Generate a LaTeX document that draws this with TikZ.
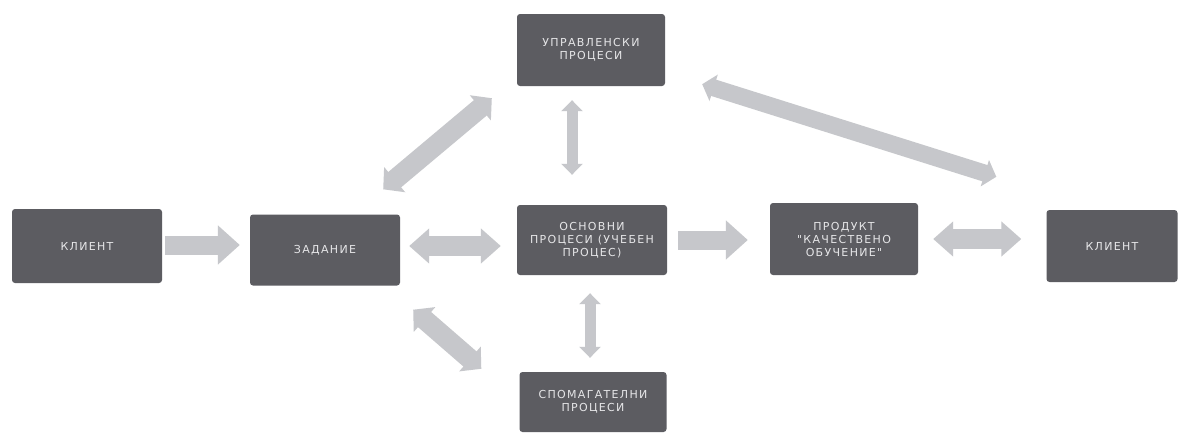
\documentclass[tikz,border=0pt]{standalone}
\usepackage{fontspec}
\newfontfamily\boxfont[LetterSpace=12]{DejaVu Sans}
\usetikzlibrary{arrows.meta,calc}
\definecolor{boxgray}{HTML}{5C5C61}
\definecolor{arrgray}{HTML}{C6C7CB}
\definecolor{txtgray}{HTML}{E6E6E8}
\begin{document}
\begin{tikzpicture}[x=1pt,y=-1pt,
  box/.style={fill=boxgray, rounded corners=3pt, text=txtgray,
    font=\boxfont\fontsize{11}{13}\selectfont, align=center, inner sep=0pt},
  sarrow/.style={draw=arrgray, line width=19pt, -{Triangle[length=22pt,width=38pt]}},
  darrow/.style={draw=arrgray, line width=20pt,
    {Triangle[length=20pt,width=34pt]}-{Triangle[length=20pt,width=34pt]}},
  varrow/.style={draw=arrgray, line width=11pt,
    {Triangle[length=11pt,width=21pt]}-{Triangle[length=11pt,width=21pt]}},
  diagarrow/.style={draw=arrgray, line width=20pt,
    {Triangle[length=15pt,width=32pt]}-{Triangle[length=15pt,width=32pt]}},
  longarrow/.style={draw=arrgray, line width=17pt,
    {Triangle[length=12pt,width=27pt]}-{Triangle[length=12pt,width=27pt]}}
]
\useasboundingbox (0,0) rectangle (1185,439);
\fill[white] (0,0) rectangle (1185,439);

\node[box, minimum width=148pt, minimum height=72pt] (up) at (591,50) {УПРАВЛЕНСКИ\\ПРОЦЕСИ};
\node[box, minimum width=150pt, minimum height=74pt] (kl1) at (87,246) {КЛИЕНТ};
\node[box, minimum width=150pt, minimum height=71pt] (zad) at (325,250) {ЗАДАНИЕ};
\node[box, minimum width=150pt, minimum height=70pt] (osn) at (592,240) {ОСНОВНИ\\ПРОЦЕСИ (УЧЕБЕН\\ПРОЦЕС)};
\node[box, minimum width=148pt, minimum height=72pt] (prod) at (844,239) {ПРОДУКТ\\"КАЧЕСТВЕНО\\ОБУЧЕНИЕ"};
\node[box, minimum width=131pt, minimum height=72pt] (kl2) at (1112,246) {КЛИЕНТ};
\node[box, minimum width=147pt, minimum height=60pt] (spom) at (593,402) {СПОМАГАТЕЛНИ\\ПРОЦЕСИ};

\draw[sarrow] ($(kl1.east)+(3,-1)$) -- ($(zad.west)+(-10,-5)$);
\draw[darrow] ($(zad.east)+(9,-4)$) -- ($(osn.west)+(-16,6)$);
\draw[sarrow] ($(osn.east)+(11,0)$) -- ($(prod.west)+(-22,1)$);
\draw[darrow] ($(prod.east)+(15,0)$) -- ($(kl2.west)+(-25,-7)$);
\draw[varrow] ($(up.south)+(-19,14)$) -- ($(osn.north)+(-20,-30)$);
\draw[varrow] ($(osn.south)+(-2,18)$) -- ($(spom.north)+(-3,-14)$);
\draw[diagarrow] ($(zad.north east)+(-17,-25)$) -- ($(up.south west)+(-25,12)$);
\draw[diagarrow] ($(zad.south east)+(13,24)$) -- ($(spom.north west)+(-38,-3)$);
\draw[longarrow] ($(up.south east)+(37,-2)$) -- ($(kl2.north west)+(-50,-33)$);
\end{tikzpicture}
\end{document}
